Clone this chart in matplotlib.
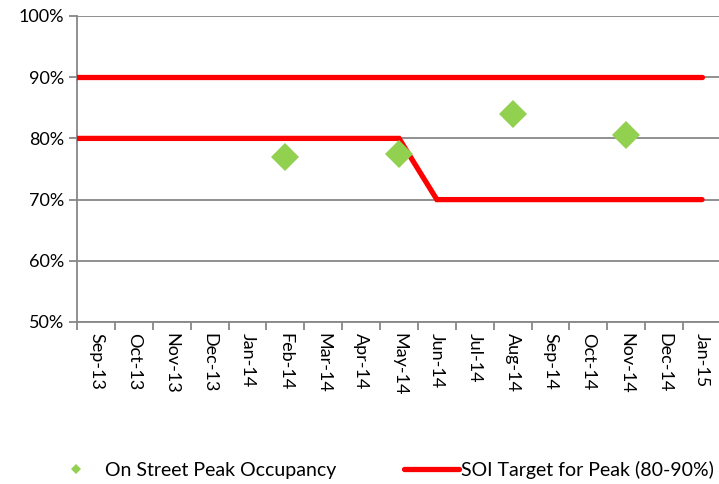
import matplotlib
matplotlib.use("Agg")
import matplotlib.pyplot as plt
from matplotlib.ticker import FixedLocator, FuncFormatter

# months shown on the axis
months = ["Sep-13", "Oct-13", "Nov-13", "Dec-13", "Jan-14", "Feb-14", "Mar-14",
          "Apr-14", "May-14", "Jun-14", "Jul-14", "Aug-14", "Sep-14", "Oct-14",
          "Nov-14", "Dec-14", "Jan-15"]

# measured peak occupancy (%)
occ_months = ["Feb-14", "May-14", "Aug-14", "Nov-14"]
occ_values = [77.0, 77.5, 84.0, 80.5]

# target band, starts one month before the axis (Aug-13)
target_months = ["Aug-13"] + months
target_upper = [90] * len(target_months)
target_lower = [80] * 10 + [70] * 8

GREEN = "#92D050"
RED = "#FF0000"
GREY = "#878787"

plt.rcParams["font.family"] = ["Lato", "DejaVu Sans"]


def month_index(m):
    """Position of a month label on the category axis (Aug-13 falls at -1)."""
    if m in months:
        return months.index(m)
    return months.index("Sep-13") - 1


fig = plt.figure(figsize=(7.19, 4.84), dpi=100)
ax = fig.add_axes([77 / 719, 1 - 322 / 484, 644 / 719, 306 / 484])

tx = [month_index(m) for m in target_months]
ax.plot(tx, target_upper, color=RED, linewidth=3.8, solid_capstyle="round",
        zorder=3, label="SOI Target for Peak (80-90%)")
ax.plot(tx, target_lower, color=RED, linewidth=3.8, solid_capstyle="round",
        solid_joinstyle="miter", zorder=3)
ax.plot([month_index(m) for m in occ_months], occ_values, linestyle="none",
        marker="D", markersize=14, color=GREEN, markeredgewidth=0, zorder=4,
        label="On Street Peak Occupancy")

ax.set_xlim(-0.5, len(months) - 0.5)
ax.set_ylim(50, 100)

ax.set_yticks(range(50, 101, 10))
ax.yaxis.set_major_formatter(FuncFormatter(lambda v, p: "{:d}%".format(int(v))))
ax.tick_params(axis="y", length=6, width=1.3, color=GREY, labelsize=13,
               pad=3, direction="out")
ax.yaxis.grid(True, color=GREY, linewidth=1.3, zorder=1)
ax.set_axisbelow(True)

ax.set_xticks(range(len(months)))
ax.set_xticklabels(months, rotation=-90, fontsize=13)
ax.xaxis.set_minor_locator(FixedLocator([i - 0.5 for i in range(len(months) + 1)]))
ax.tick_params(axis="x", which="major", length=0, pad=8)
ax.tick_params(axis="x", which="minor", length=6, width=1.3, color=GREY,
               direction="out")

for side in ["top", "right"]:
    ax.spines[side].set_visible(False)
for side in ["left", "bottom"]:
    ax.spines[side].set_color(GREY)
    ax.spines[side].set_linewidth(1.3)

handles, labels = ax.get_legend_handles_labels()
order = [1, 0]
leg = fig.legend([handles[i] for i in order], [labels[i] for i in order],
                 loc="center", bbox_to_anchor=(381 / 719, 1 - 470 / 484),
                 ncol=2, frameon=False, fontsize=14, handlelength=2.8,
                 handletextpad=0.1, columnspacing=3.5, markerscale=0.4)

fig.savefig("out.png", dpi=100)
